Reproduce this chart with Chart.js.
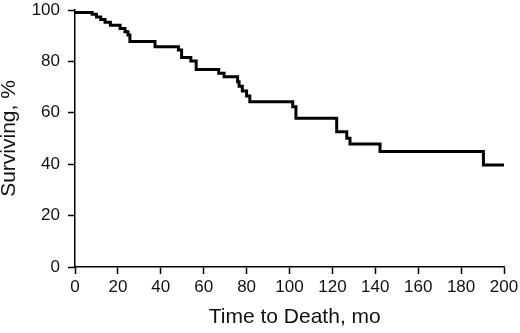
<!DOCTYPE html>
<html>
<head>
<meta charset="utf-8">
<script src="https://cdn.jsdelivr.net/npm/chart.js"></script>
<style>
    body { margin: 0; background: #fff; }
</style>
</head>
<body>
<canvas id="km-chart" width="520" height="333"></canvas>
<script>
// Survival curve: month where each step starts, % surviving from there on
const months =    [0,  8,    10,   12,   14,   16.5, 21,   23.3, 24.7, 25.6, 37.3, 48.2, 49.7, 54,   56.5, 67,   69.5, 75.8, 76.5, 78,   80,   81.5, 101.5, 103,  122,  126.7, 128.2, 142.2, 190.4, 200];
const surviving = [99, 98.3, 97.3, 96.3, 95.2, 94.1, 92.8, 91.5, 90.3, 87.7, 85.7, 84.4, 81.5, 80.2, 76.8, 75.4, 74.0, 72.1, 70.3, 68.5, 66.5, 64.3, 62.4,  57.9, 52.6, 50.1,  47.9,  44.9,  39.7,  39.7];

// Axis ticks
const xTicks = [0, 20, 40, 60, 80, 100, 120, 140, 160, 180, 200];
const yTicks = [0, 20, 40, 60, 80, 100];

const xTitle = 'Time to Death, mo';
const yTitle = 'Surviving, %';

const fontFamily = '"Liberation Sans", Arial, sans-serif';

function initChart() {
    const ctx = document.getElementById('km-chart').getContext('2d');
    new Chart(ctx, {
        type: 'scatter',
        data: {
            datasets: [{
                label: 'Surviving',
                data: months.map((m, i) => ({ x: m, y: surviving[i] })),
                showLine: true,
                stepped: true,
                borderColor: '#000',
                borderWidth: 3,
                pointRadius: 0,
                fill: false
            }]
        },
        options: {
            responsive: false,
            animation: false,
            layout: {
                padding: { top: 10, right: 16, bottom: 0, left: 0 }
            },
            plugins: {
                legend: { display: false },
                tooltip: { enabled: false }
            },
            scales: {
                x: {
                    type: 'linear',
                    min: xTicks[0],
                    max: xTicks[xTicks.length - 1],
                    afterBuildTicks: axis => { axis.ticks = xTicks.map(v => ({ value: v })); },
                    afterFit: axis => {
                        axis.height = 333 - 267;
                        // let layout padding alone decide the plot edges
                        axis.paddingLeft = 0;
                        axis.paddingRight = 0;
                    },
                    ticks: {
                        color: '#111',
                        padding: 3,
                        maxRotation: 0,
                        font: { family: fontFamily, size: 17 }
                    },
                    grid: {
                        drawOnChartArea: false,
                        tickLength: 7,
                        tickColor: '#000',
                        tickWidth: 1.5
                    },
                    border: { color: '#000', width: 1.5 },
                    title: {
                        display: true,
                        // leading space nudges the centred title right, as in the original
                        text: '\u2002' + xTitle,
                        color: '#111',
                        padding: { top: 5, bottom: 5 },
                        font: { family: fontFamily, size: 21, lineHeight: 1 }
                    }
                },
                y: {
                    min: yTicks[0],
                    max: yTicks[yTicks.length - 1],
                    afterBuildTicks: axis => { axis.ticks = yTicks.map(v => ({ value: v })); },
                    afterFit: axis => {
                        axis.width = 75;
                        axis.paddingTop = 0;
                        axis.paddingBottom = 0;
                    },
                    ticks: {
                        color: '#111',
                        padding: 8,
                        font: { family: fontFamily, size: 17 }
                    },
                    grid: {
                        drawOnChartArea: false,
                        tickLength: 7,
                        tickColor: '#000',
                        tickWidth: 1.5
                    },
                    border: { color: '#000', width: 1.5 },
                    title: {
                        display: true,
                        text: yTitle,
                        color: '#111',
                        padding: 0,
                        font: { family: fontFamily, size: 21, lineHeight: 0.85 }
                    }
                }
            }
        }
    });
}

initChart();
</script>
</body>
</html>
